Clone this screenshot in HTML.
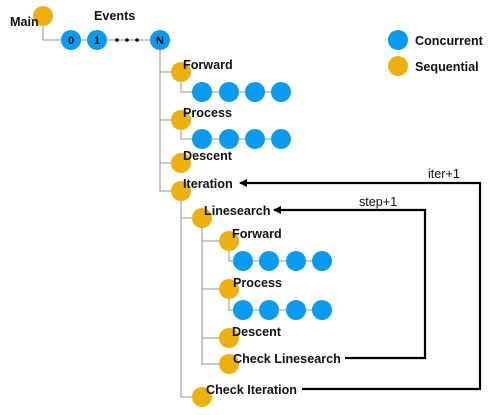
<!DOCTYPE html>
<html><head><meta charset="utf-8"><style>
html,body{margin:0;padding:0;background:#fff;width:500px;height:415px;overflow:hidden}
text{font-family:"Liberation Sans",Arial,sans-serif;font-size:12.6px;font-weight:bold;fill:#111}
</style></head><body>
<svg width="500" height="415" viewBox="0 0 500 415" xmlns="http://www.w3.org/2000/svg">
<defs><marker id="ah" markerWidth="8" markerHeight="8" refX="7" refY="4" orient="auto" markerUnits="userSpaceOnUse"><path d="M0,0 L8,4 L0,8 Z" fill="#000"/></marker></defs>
<g stroke="#aaa" stroke-width="1.3" fill="none">
<path d="M43,26 V40 H160"/>
<path d="M160,50 V192 M160,72 H171 M160,120 H171 M160,163 H171 M160,191 H171"/>
<path d="M181,82 V92 H281 M181,130 V139 H281"/>
<path d="M181,201 V397 H192 M181,218 H192"/>
<path d="M202,228 V365 M202,241 H219 M202,289 H219 M202,338 H219 M202,364 H219"/>
<path d="M229,251 V261 H322 M229,299 V310 H322"/>
</g>
<g fill="none" stroke="#000" stroke-width="2.2">
<path d="M302,389 H480 V183 H240" marker-end="url(#ah)"/>
<path d="M345,358 H425 V210 H274" marker-end="url(#ah)"/>
</g>
<g fill="#000"><circle cx="117" cy="40" r="1.8"/><circle cx="127" cy="40" r="1.8"/><circle cx="137" cy="40" r="1.8"/></g>
<g fill="#0a9af0">
<circle cx="71" cy="40" r="10"/><circle cx="97" cy="40" r="10"/><circle cx="160" cy="40" r="10"/>
<circle cx="202" cy="92" r="10"/><circle cx="229" cy="92" r="10"/><circle cx="255" cy="92" r="10"/><circle cx="281" cy="92" r="10"/>
<circle cx="202" cy="139" r="10"/><circle cx="229" cy="139" r="10"/><circle cx="255" cy="139" r="10"/><circle cx="281" cy="139" r="10"/>
<circle cx="243" cy="261" r="10"/><circle cx="269" cy="261" r="10"/><circle cx="296" cy="261" r="10"/><circle cx="322" cy="261" r="10"/>
<circle cx="243" cy="310" r="10"/><circle cx="269" cy="310" r="10"/><circle cx="296" cy="310" r="10"/><circle cx="322" cy="310" r="10"/>
<circle cx="398" cy="40" r="10"/>
</g>
<g fill="#edb10f">
<circle cx="43" cy="16" r="10"/>
<circle cx="181" cy="72" r="10"/><circle cx="181" cy="120" r="10"/><circle cx="181" cy="163" r="10"/><circle cx="181" cy="191" r="10"/>
<circle cx="202" cy="218" r="10"/><circle cx="202" cy="397" r="10"/>
<circle cx="229" cy="241" r="10"/><circle cx="229" cy="289" r="10"/><circle cx="229" cy="338" r="10"/><circle cx="229" cy="364" r="10"/>
<circle cx="398" cy="66" r="10"/>
</g>
<text x="71" y="44" text-anchor="middle" style="font-size:11px">0</text>
<text x="97" y="44" text-anchor="middle" style="font-size:11px">1</text>
<text x="160" y="44" text-anchor="middle" style="font-size:11px">N</text>
<text x="10" y="26">Main</text>
<text x="94" y="20">Events</text>
<text x="183" y="69">Forward</text>
<text x="183" y="117">Process</text>
<text x="183" y="160">Descent</text>
<text x="183" y="188">Iteration</text>
<text x="204" y="215">Linesearch</text>
<text x="232" y="238">Forward</text>
<text x="233" y="287">Process</text>
<text x="232" y="336">Descent</text>
<text x="233" y="363">Check Linesearch</text>
<text x="206" y="394">Check Iteration</text>
<text x="428" y="178" style="font-weight:normal">iter+1</text>
<text x="359" y="206" style="font-weight:normal">step+1</text>
<text x="415" y="45">Concurrent</text>
<text x="415" y="71">Sequential</text>
</svg>
</body></html>
